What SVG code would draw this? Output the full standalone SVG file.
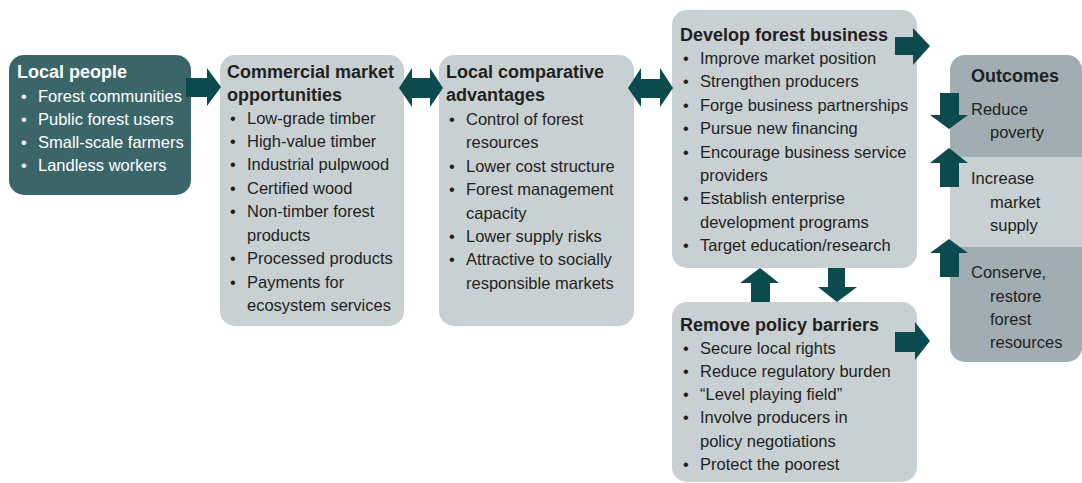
<svg xmlns="http://www.w3.org/2000/svg" width="1082" height="483" viewBox="0 0 1082 483">
<style>
text{font-family:"Liberation Sans",Arial,sans-serif;font-size:16.5px;fill:#231f20}
.t{font-weight:bold;font-size:18px}
.w{fill:#ffffff}
.box{fill:#c9d0d3}
.dark{fill:#3b6669}
.out{fill:#a0adb3}
.arr{fill:#0b4a4d}
</style>
<rect width="1082" height="483" fill="#ffffff"/>
<g id="local-people">
<rect class="dark" x="9" y="55" width="182" height="140" rx="15"/>
<text class="t w" x="17" y="78">Local people</text>
<text class="w" x="21" y="102">•</text><text class="w" x="38" y="102">Forest communities</text>
<text class="w" x="21" y="125">•</text><text class="w" x="38" y="125">Public forest users</text>
<text class="w" x="21" y="148">•</text><text class="w" x="38" y="148">Small-scale farmers</text>
<text class="w" x="21" y="171">•</text><text class="w" x="38" y="171">Landless workers</text>
</g>
<g id="commercial">
<rect class="box" x="220" y="55" width="184" height="271" rx="15"/>
<text class="t" x="227" y="78">Commercial market</text>
<text class="t" x="227" y="101">opportunities</text>
<text x="230" y="124">•</text><text x="247" y="124">Low-grade timber</text>
<text x="230" y="147">•</text><text x="247" y="147">High-value timber</text>
<text x="230" y="170">•</text><text x="247" y="170">Industrial pulpwood</text>
<text x="230" y="194">•</text><text x="247" y="194">Certified wood</text>
<text x="230" y="217">•</text><text x="247" y="217">Non-timber forest</text>
<text x="247" y="241">products</text>
<text x="230" y="264">•</text><text x="247" y="264">Processed products</text>
<text x="230" y="288">•</text><text x="247" y="288">Payments for</text>
<text x="247" y="311">ecosystem services</text>
</g>
<g id="comparative">
<rect class="box" x="439" y="55" width="195" height="271" rx="15"/>
<text class="t" x="446" y="78">Local comparative</text>
<text class="t" x="446" y="101">advantages</text>
<text x="449" y="125">•</text><text x="466" y="125">Control of forest</text>
<text x="466" y="148">resources</text>
<text x="449" y="172">•</text><text x="466" y="172">Lower cost structure</text>
<text x="449" y="195">•</text><text x="466" y="195">Forest management</text>
<text x="466" y="219">capacity</text>
<text x="449" y="242">•</text><text x="466" y="242">Lower supply risks</text>
<text x="449" y="265">•</text><text x="466" y="265">Attractive to socially</text>
<text x="466" y="289">responsible markets</text>
</g>
<g id="develop">
<rect class="box" x="672" y="10" width="245" height="258" rx="15"/>
<text class="t" x="680" y="41">Develop forest business</text>
<text x="683" y="64">•</text><text x="700" y="64">Improve market position</text>
<text x="683" y="87">•</text><text x="700" y="87">Strengthen producers</text>
<text x="683" y="111">•</text><text x="700" y="111">Forge business partnerships</text>
<text x="683" y="134">•</text><text x="700" y="134">Pursue new financing</text>
<text x="683" y="158">•</text><text x="700" y="158">Encourage business service</text>
<text x="700" y="181">providers</text>
<text x="683" y="204">•</text><text x="700" y="204">Establish enterprise</text>
<text x="700" y="228">development programs</text>
<text x="683" y="251">•</text><text x="700" y="251">Target education/research</text>
</g>
<g id="policy">
<rect class="box" x="672" y="302" width="245" height="180" rx="15"/>
<text class="t" x="680" y="331">Remove policy barriers</text>
<text x="683" y="354">•</text><text x="700" y="354">Secure local rights</text>
<text x="683" y="377">•</text><text x="700" y="377">Reduce regulatory burden</text>
<text x="683" y="400">•</text><text x="700" y="400">“Level playing field”</text>
<text x="683" y="423">•</text><text x="700" y="423">Involve producers in</text>
<text x="700" y="447">policy negotiations</text>
<text x="683" y="470">•</text><text x="700" y="470">Protect the poorest</text>
</g>
<g id="outcomes">
<rect class="out" x="950" y="55" width="132" height="307" rx="15"/>
<rect class="box" x="950" y="157" width="132" height="90"/>
<text class="t" x="971" y="82">Outcomes</text>
<text x="971" y="115">Reduce</text>
<text x="990" y="138">poverty</text>
<text x="971" y="184">Increase</text>
<text x="990" y="208">market</text>
<text x="990" y="231">supply</text>
<text x="971" y="278">Conserve,</text>
<text x="990" y="302">restore</text>
<text x="990" y="325">forest</text>
<text x="990" y="348">resources</text>
</g>
<g id="connectors">
<polygon class="arr" points="186,78 207,78 207,68 221,87 207,106 207,97 186,97"/>
<polygon class="arr" points="399,88 412,68 412,78 430,78 430,68 443,88 430,107 430,98 412,98 412,107"/>
<polygon class="arr" points="628,88 641,68 641,79 660,79 660,68 673,88 660,107 660,98 641,98 641,107"/>
<polygon class="arr" points="895,37 913,37 913,28 930,46 913,65 913,55 895,55"/>
<polygon class="arr" points="895,332 915,332 915,322 930,341 915,360 915,352 895,352"/>
<polygon class="arr" points="760,268 779,283 770,283 770,302 751,302 751,283 740,283"/>
<polygon class="arr" points="828,268 845,268 845,287 857,287 837,302 818,287 828,287"/>
<polygon class="arr" points="940,93 959,93 959,115 968,115 949,129 930,115 940,115"/>
<polygon class="arr" points="949,148 968,163 959,163 959,187 940,187 940,163 930,163"/>
<polygon class="arr" points="949,239 968,253 959,253 959,277 940,277 940,253 930,253"/>
</g>
</svg>
